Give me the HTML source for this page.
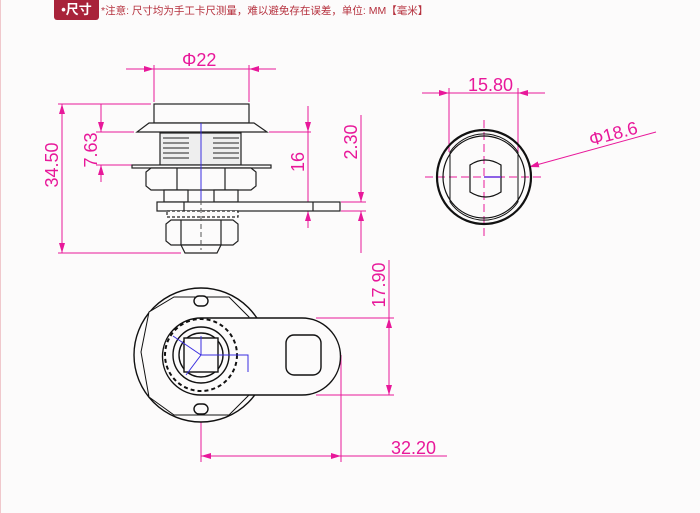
<!DOCTYPE html>
<html><head><meta charset="utf-8"><style>
html,body{margin:0;padding:0;background:#fcfbfb}
body{width:700px;height:513px;position:relative;overflow:hidden;border-left:1px solid #f0c8cc;box-sizing:border-box}
.badge{position:absolute;left:53px;top:0;width:45px;height:20px;background:#a8233a;border-radius:0 0 3px 3px;color:#fff;font:bold 13px "Liberation Sans","Noto Sans CJK SC",sans-serif;line-height:20px;text-align:center}
.note{position:absolute;left:100px;top:3px;font:10.5px "Liberation Sans","Noto Sans CJK SC",sans-serif;color:#b5303d;white-space:nowrap}
svg{position:absolute;left:0;top:0}
</style></head><body>
<div class="badge">•尺寸</div>
<div class="note">*注意: 尺寸均为手工卡尺测量，难以避免存在误差，单位: MM【毫米】</div>
<svg width="700" height="513" viewBox="0 0 700 513">
<defs>
<marker id="a" viewBox="0 0 10 6" refX="10" refY="3" markerWidth="10" markerHeight="6" orient="auto-start-reverse" markerUnits="userSpaceOnUse"><path d="M0,0L10,3L0,6z" fill="#e8189a"/></marker>
</defs>
<g stroke="#e8189a" stroke-width="1" fill="none">
<line x1="125" y1="69" x2="275" y2="69"/>
<line x1="138" y1="69" x2="153" y2="69" marker-end="url(#a)"/>
<line x1="262" y1="69" x2="248" y2="69" marker-end="url(#a)"/>
<line x1="153" y1="65" x2="153" y2="102"/><line x1="248" y1="65" x2="248" y2="102"/>
<line x1="57" y1="104" x2="150" y2="104"/><line x1="57" y1="253" x2="180" y2="253"/>
<line x1="61" y1="178" x2="61" y2="104" marker-end="url(#a)"/><line x1="61" y1="178" x2="61" y2="253" marker-end="url(#a)"/>
<line x1="95" y1="132" x2="133" y2="132"/><line x1="95" y1="165" x2="155" y2="165"/>
<line x1="100" y1="104" x2="100" y2="132" marker-end="url(#a)"/><line x1="100" y1="182" x2="100" y2="165" marker-end="url(#a)"/>
<line x1="268" y1="132" x2="310" y2="132"/>
<line x1="307" y1="106" x2="307" y2="132" marker-end="url(#a)"/><line x1="307" y1="228" x2="307" y2="211" marker-end="url(#a)"/>
<line x1="307" y1="132" x2="307" y2="211"/>
<line x1="340" y1="202" x2="365" y2="202"/><line x1="340" y1="211" x2="365" y2="211"/>
<line x1="360" y1="115" x2="360" y2="202" marker-end="url(#a)"/><line x1="360" y1="253" x2="360" y2="211" marker-end="url(#a)"/>
<line x1="421" y1="93" x2="544" y2="93"/>
<line x1="432" y1="93" x2="448" y2="93" marker-end="url(#a)"/><line x1="532" y1="93" x2="517" y2="93" marker-end="url(#a)"/>
<line x1="448" y1="88" x2="448" y2="152"/><line x1="517" y1="88" x2="517" y2="152"/>
<line x1="655" y1="132" x2="528" y2="167" marker-end="url(#a)"/>
<line x1="315" y1="318" x2="393" y2="318"/><line x1="315" y1="395" x2="393" y2="395"/>
<line x1="388" y1="260" x2="388" y2="318"/>
<line x1="388" y1="356" x2="388" y2="318" marker-end="url(#a)"/><line x1="388" y1="356" x2="388" y2="395" marker-end="url(#a)"/>
<line x1="200" y1="355" x2="200" y2="462"/><line x1="340" y1="355" x2="340" y2="462"/>
<line x1="270" y1="456" x2="200" y2="456" marker-end="url(#a)"/><line x1="270" y1="456" x2="340" y2="456" marker-end="url(#a)"/>
<line x1="340" y1="456" x2="446" y2="456"/>
<line x1="424" y1="177" x2="542" y2="177" stroke-dasharray="8,4"/>
<line x1="483" y1="120" x2="483" y2="237" stroke-dasharray="8,4"/>
</g>
<g fill="#e8189a" font-family="Liberation Sans,sans-serif" font-size="18">
<text x="181" y="66">Φ22</text>
<text transform="translate(57,165) rotate(-90)" text-anchor="middle">34.50</text>
<text transform="translate(96,150) rotate(-90)" text-anchor="middle">7.63</text>
<text transform="translate(303,162) rotate(-90)" text-anchor="middle">16</text>
<text transform="translate(356,142) rotate(-90)" text-anchor="middle">2.30</text>
<text x="467" y="91">15.80</text>
<text transform="translate(590,146) rotate(-15)">Φ18.6</text>
<text transform="translate(384,285) rotate(-90)" text-anchor="middle">17.90</text>
<text x="390" y="454">32.20</text>
</g>
<g stroke="#222" stroke-width="1.2" fill="#fcfbfb">
<rect x="153" y="104" width="95" height="19"/>
<path d="M148,123H253L266,132H136Z"/>
<rect x="159" y="133" width="81" height="32" fill="#eee"/>
<g stroke-width="1" fill="none">
<path d="M162,138h26M162,143h26M162,148h26M162,153h26M162,158h26M212,138h26M212,143h26M212,148h26M212,153h26M212,158h26"/>
</g>
<rect x="131" y="165" width="139" height="3"/>
<path d="M145,172l5,-4h100l5,4v14l-5,4h-100l-5,-4z"/>
<line x1="176" y1="168" x2="176" y2="190"/><line x1="224" y1="168" x2="224" y2="190"/>
<rect x="163" y="190" width="24" height="12"/><rect x="213" y="190" width="24" height="12"/>
<rect x="156" y="202" width="183" height="9"/>
<line x1="183" y1="202" x2="183" y2="211"/><line x1="312" y1="202" x2="312" y2="211"/>
<path d="M166,211h71v6h-71z" stroke-dasharray="3,2"/>
<path d="M165,224l5,-4h62l5,4v17l-5,4h-62l-5,-4z"/>
<line x1="180" y1="220" x2="180" y2="245"/><line x1="220" y1="220" x2="220" y2="245"/>
<path d="M180,245h40l-4,8h-32z"/>
</g>
<line x1="200" y1="123" x2="200" y2="200" stroke="#3a2ee0" stroke-width="1"/>
<line x1="200" y1="200" x2="200" y2="250" stroke="#555" stroke-dasharray="5,3"/>
<g stroke="#111" fill="none">
<circle cx="483" cy="177" r="47" stroke-width="2.2"/>
<circle cx="483" cy="177" r="41" stroke-width="1.2"/>
<path d="M449,152A41,41 0 0 1 517,152M449,202A41,41 0 0 0 517,202M449,152V202M517,152V202" stroke-width="1"/>
<path d="M469,165q15,-10 31,0v27q-15,10 -31,0z" stroke-width="1.2"/>
</g>
<line x1="483" y1="177" x2="500" y2="177" stroke="#6a2ee0" stroke-width="1.5"/>
<g stroke="#111" stroke-width="1.4" fill="#fcfbfb">
<circle cx="200" cy="355" r="67"/>
<path d="M148,312l-8,40l8,45l25,18h55l20,-20l0,-78l-20,-20h-55z" stroke-width="1"/>
<path d="M200,318H301A38.5,38.5 0 0 1 301,395H200A38.5,38.5 0 0 1 200,318Z"/>
<rect x="285" y="335" width="35" height="40" rx="8"/>
<circle cx="200" cy="355" r="36" stroke-dasharray="4,3" stroke-width="2"/>
<circle cx="200" cy="355" r="28"/>
<circle cx="200" cy="355" r="22"/>
<rect x="183" y="338" width="34" height="34"/>
<rect x="193" y="296" width="14" height="10" rx="5"/><rect x="193" y="404" width="14" height="10" rx="5"/>
</g>
<g stroke="#3a2ee0" stroke-width="1" fill="none">
<path d="M200,355L172,336M200,355L200,336M200,355L247,355V372M200,355L185,375"/>
</g>
</svg>
</body></html>
